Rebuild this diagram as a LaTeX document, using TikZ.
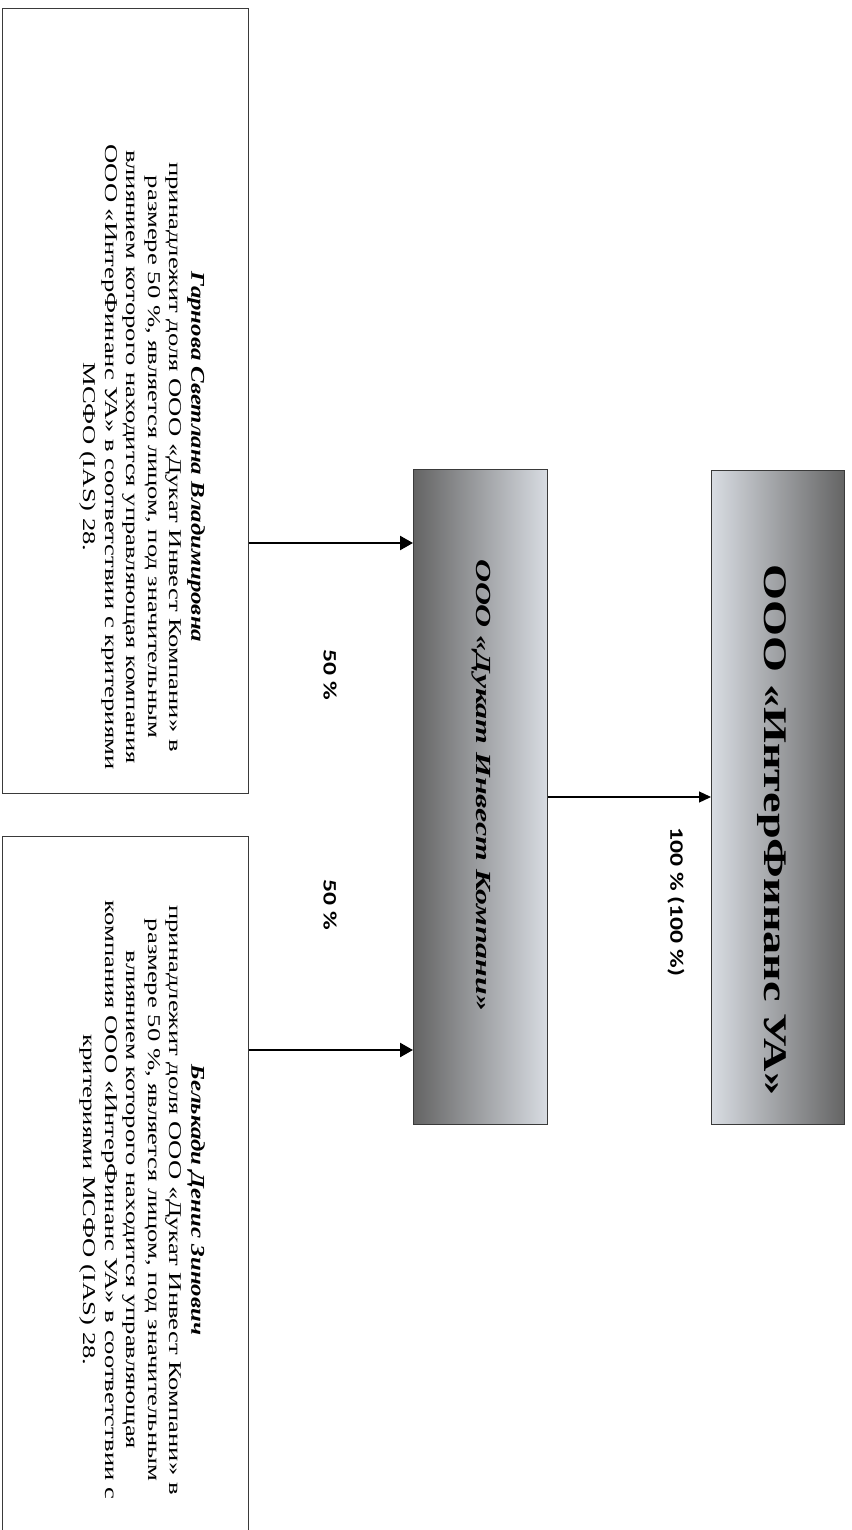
\documentclass[tikz,border=0pt]{standalone}
\usepackage{fontspec}
\setmainfont{Liberation Serif}
\newfontfamily\lblfont{Carlito}
\usepackage{graphicx}
\usetikzlibrary{arrows.meta}
\definecolor{edgegray}{HTML}{3A3A3A}
\definecolor{darkfill}{HTML}{646464}
\definecolor{lightfill}{HTML}{D8DCE2}
\newcommand{\stretchtxt}[1]{\scalebox{1.48}[1]{#1}}
\newcommand{\lblstretch}[1]{\scalebox{1.35}[1]{#1}}
\newcommand{\titlesq}[1]{\scalebox{0.86}[1]{\fontsize{19.5}{21.5}\selectfont\textbf{\textit{#1}}}}
\begin{document}
\begin{tikzpicture}[x=1pt,y=-1pt,
  personbox/.style={draw=edgegray, line width=1.2pt, anchor=north west, inner sep=0pt},
  ducatbox/.style={draw=edgegray, line width=1.2pt, anchor=north west, inner sep=0pt, left color=darkfill, right color=lightfill},
  interbox/.style={draw=edgegray, line width=1.2pt, anchor=north west, inner sep=0pt, left color=lightfill, right color=darkfill},
  bodytxt/.style={rotate=-90, inner sep=0pt, text=black},
  pctlbl/.style={rotate=-90, inner sep=0pt, text=black, font=\lblfont\bfseries\fontsize{19}{22}\selectfont},
  thickarr/.style={line width=2.4pt, -{Triangle[length=13pt, width=14pt]}},
  thinarr/.style={line width=1.2pt, -{Triangle[length=12pt, width=11pt]}}
]
\useasboundingbox (0,0) rectangle (851,1530);
\fill[white] (0,0) rectangle (851,1530);

% boxes
\node[personbox, minimum width=246pt, minimum height=785pt] (A) at (2,8) {};
\node[personbox, minimum width=246pt, minimum height=696pt] (B) at (2,836) {};
\node[ducatbox, minimum width=134pt, minimum height=655pt] (D) at (413,469) {};
\node[interbox, minimum width=133pt, minimum height=654pt] (I) at (711,470) {};

% texts
\node[bodytxt] (tA) at (142,457) {\stretchtxt{\fontsize{18}{21.5}\selectfont\setlength\tabcolsep{0pt}%
\begin{tabular}{c}
\titlesq{Гарнова Светлана Владимировна}\\
принадлежит доля ООО «Дукат Инвест Компани» в\\
размере 50~\%, является лицом, под значительным\\
влиянием которого находится управляющая компания\\
ООО «ИнтерФинанс УА» в соответствии с критериями\\
МСФО (IAS) 28.
\end{tabular}}};

\node[bodytxt] (tB) at (142,1200) {\stretchtxt{\fontsize{18}{21.5}\selectfont\setlength\tabcolsep{0pt}%
\begin{tabular}{c}
\titlesq{Белькади Денис Зинович}\\
принадлежит доля ООО «Дукат Инвест Компани» в\\
размере 50~\%, является лицом, под значительным\\
влиянием которого находится управляющая\\
компания ООО «ИнтерФинанс УА» в соответствии с\\
критериями МСФО (IAS) 28.
\end{tabular}}};

\node[bodytxt] (tD) at (481,785) {\stretchtxt{\fontsize{21.5}{24}\selectfont\textbf{\textit{ООО «Дукат Инвест Компани»}}}};
\node[bodytxt] (tI) at (772,830) {\scalebox{1.4}[1]{\fontsize{33}{38}\selectfont\textbf{ООО «ИнтерФинанс УА»}}};

% percentage labels
\node[pctlbl] (p1) at (330,675) {\lblstretch{50 \%}};
\node[pctlbl] (p2) at (330,905) {\lblstretch{50 \%}};
\node[pctlbl] (p3) at (676,902) {\lblstretch{100 \% (100 \%)}};

% connectors
\draw[thickarr] (A.east |- 0,543) -- (D.west |- 0,543);
\draw[thickarr] (B.east |- 0,1050) -- (D.west |- 0,1050);
\draw[thinarr] (D.east |- 0,797) -- (I.west |- 0,797);
\end{tikzpicture}
\end{document}
